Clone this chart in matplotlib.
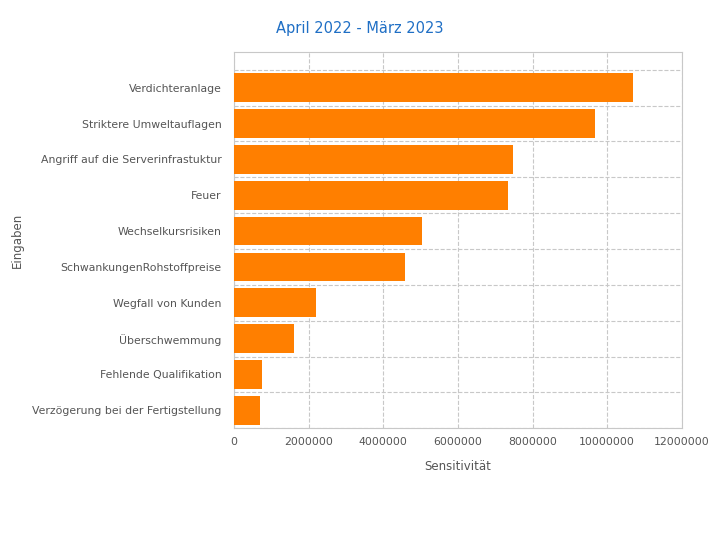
import matplotlib
matplotlib.use("Agg")
import matplotlib.pyplot as plt
import numpy as np

labels = ['Verdichteranlage', 'Striktere Umweltauflagen', 'Angriff auf die Serverinfrastuktur',
          'Feuer', 'Wechselkursrisiken', 'SchwankungenRohstoffpreise', 'Wegfall von Kunden',
          'Überschwemmung', 'Fehlende Qualifikation', 'Verzögerung bei der Fertigstellung']
values = [10690000, 9670000, 7470000, 7340000, 5040000, 4580000, 2200000,
          1610000, 750000, 700000]

fig = plt.figure(figsize=(7.2, 5.4), dpi=100)
ax = fig.add_axes([0.325, 0.207, 0.622, 0.697])

y = np.arange(len(labels))
ax.barh(y, values, height=0.8, color='#FF7F00', zorder=3)
ax.set_yticks(y)
ax.set_yticklabels(labels)
ax.set_ylim(len(labels) - 0.5, -1.0)
ax.set_xlim(0, 12000000)
ax.set_xticks(np.arange(0, 12000001, 2000000))
ax.set_xticklabels([str(v) for v in range(0, 12000001, 2000000)])
ax.set_yticks(np.arange(-0.5, len(labels), 1), minor=True)

ax.grid(axis='x', color='#c8c8c8', linestyle='--', linewidth=0.8, zorder=0)
ax.grid(axis='y', which='minor', color='#c8c8c8', linestyle='--', linewidth=0.8, zorder=0)
ax.tick_params(axis='both', which='both', length=0, colors='#555555', labelsize=7.8)
ax.tick_params(axis='y', pad=9)
ax.tick_params(axis='x', pad=6)
for s in ax.spines.values():
    s.set_color('#c8c8c8')
    s.set_linewidth(0.8)

ax.set_xlabel('Sensitivität', color='#555555', fontsize=8.5, labelpad=10)
ax.set_ylabel('Eingaben', color='#555555', fontsize=8.5, labelpad=6)
fig.text(0.5, 0.948, 'April 2022 - März 2023', ha='center', va='center',
         color='#1F6FC5', fontsize=10.5)

fig.savefig('out.png', dpi=100)
